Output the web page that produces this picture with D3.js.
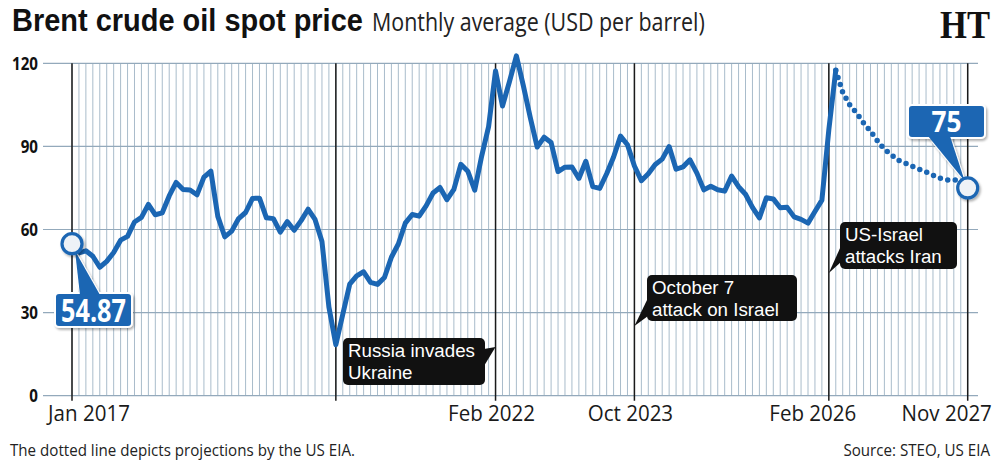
<!DOCTYPE html>
<html><head><meta charset="utf-8">
<script src="https://cdn.jsdelivr.net/npm/d3@7"></script>
<style>
html,body{margin:0;padding:0;background:#fff;}
svg{display:block;font-family:'Open Sans','Noto Sans',sans-serif;}
</style></head>
<body>
<svg id="chart" width="1000" height="475"></svg>
<script>
// ---- data (monthly index 0 = first month shown) ----
const actual = [
  54.87, 51.59, 52.31, 50.33, 46.37, 48.48, 51.70, 56.15, 57.51, 62.71, 64.37,
  69.08, 65.32, 66.02, 72.11, 76.98, 74.41, 74.25, 72.53, 78.89, 81.03, 64.75, 57.36,
  59.41, 63.96, 66.14, 71.23, 71.32, 64.22, 63.92, 59.04, 62.83, 59.71, 63.21, 67.31,
  63.65, 55.66, 32.01, 18.38, 29.38, 40.27, 43.24, 44.74, 40.91, 40.19, 42.69, 49.99,
  54.77, 62.28, 65.41, 64.81, 68.53, 73.16, 75.17, 70.75, 74.49, 83.54, 81.05, 74.17,
  86.51, 97.13, 117.25, 104.58, 113.34, 122.71, 111.93, 100.45, 89.76, 93.33, 91.42, 80.92,
  82.50, 82.59, 78.43, 84.64, 75.47, 74.84, 80.11, 86.15, 93.72, 90.60, 82.94, 77.63,
  80.12, 83.48, 85.41, 89.94, 81.75, 82.61, 85.15, 80.36, 74.29, 75.63, 74.35, 73.86,
  79.27, 75.44, 72.73, 68.01, 64.21, 71.44, 71.04, 67.87, 67.99, 64.56, 63.64, 62.3,
  66.5, 70.6, 96.0, 117.5
];
const projection = [
  117.5, 109.5, 105, 102, 98.5, 95.5, 92, 89, 87, 85, 84, 82.8, 81.8, 80.8, 79.6, 78.5, 77.9, 77.9, 77.8, 75
];
const projStart = actual.length - 1;
const nMonths = projStart + projection.length; // 130
const yTicks = [0, 30, 60, 90, 120];
const xTickIdx = [0, 61, 81, 109, 129];
const xTickLabels = ["Jan 2017", "Feb 2022", "Oct 2023", "Feb 2026", "Nov 2027"];
const eventIdx = [0, 38, 61, 81, 109, 129];
const events = [
  {idx: 61, lines: ["Russia invades", "Ukraine"]},
  {idx: 81, lines: ["October 7", "attack on Israel"]},
  {idx: 109, lines: ["US-Israel", "attacks Iran"]}
];
const firstLabel = "54.87";
const lastLabel = "75";

// ---- helpers: condense text horizontally around its anchor ----
function squeeze(sel, k) {
  sel.each(function () {
    const t = d3.select(this), xx = +t.attr("x"), yy = +t.attr("y");
    t.attr("transform", `translate(${xx},${yy}) scale(${k},1) translate(${-xx},${-yy})`);
  });
}
function fitTo(sel, target) {
  const w = sel.node().getComputedTextLength();
  const k = target / w;
  squeeze(sel, k);
  return k;
}

// ---- scales ----
const x = d3.scaleLinear().domain([0, nMonths - 1]).range([72, 967.7]);
const y = d3.scaleLinear().domain([0, 120]).range([395.7, 63.3]);

const svg = d3.select("#chart");
const defs = svg.append("defs");
const f = defs.append("filter").attr("id","sh").attr("x","-30%").attr("y","-30%").attr("width","170%").attr("height","180%");
f.append("feDropShadow").attr("dx",1.5).attr("dy",2).attr("stdDeviation",1.3).attr("flood-color","#000").attr("flood-opacity",0.3);

const BLUE = "#1b66b3";
const NARROW = "'Liberation Sans','Arimo',sans-serif";

// title
const tt = svg.append("text").attr("x", 12).attr("y", 31.5).attr("font-size", 32).attr("font-weight", 700)
  .attr("font-family", NARROW).attr("fill", "#111").text("Brent crude oil spot price");
fitTo(tt, 351);
const st = svg.append("text").attr("x", 372).attr("y", 31.5).attr("font-size", 25)
  .attr("fill", "#222").text("Monthly average (USD per barrel)");
fitTo(st, 333);
// HT logo
const ht = svg.append("text").attr("x", 940).attr("y", 38)
  .attr("font-family","'Liberation Serif','DejaVu Serif',serif").attr("font-weight",700)
  .attr("font-size", 40).attr("fill","#111").text("HT");
fitTo(ht, 50);

// vertical monthly grid
svg.append("g").selectAll("line").data(d3.range(nMonths)).join("line")
  .attr("x1", d => x(d)).attr("x2", d => x(d))
  .attr("y1", y(120)).attr("y2", y(0))
  .attr("stroke", "#a9bccb").attr("stroke-width", 1);

// horizontal grid
svg.append("g").selectAll("line").data(yTicks).join("line")
  .attr("x1", 43).attr("x2", 978)
  .attr("y1", d => y(d)).attr("y2", d => y(d))
  .attr("stroke", "#93a9bb").attr("stroke-width", 1.2);

// y labels
const yl = svg.append("g").selectAll("text").data(yTicks).join("text")
  .attr("x", 38).attr("y", d => y(d) + 6.5).attr("text-anchor", "end")
  .attr("font-size", 18.5).attr("font-weight", 700).attr("fill", "#111")
  .text(d => d);
squeeze(yl, 26 / yl.filter(d => d === 120).node().getComputedTextLength());

// dark event lines
svg.append("g").selectAll("line").data(eventIdx).join("line")
  .attr("x1", d => x(d)).attr("x2", d => x(d))
  .attr("y1", y(120)).attr("y2", y(0) + 5)
  .attr("stroke", "#1a1a1a").attr("stroke-width", 1.5);

// x labels
const xOff = [17, -4, -4, -16, -21];
const xl = svg.append("g").selectAll("text").data(xTickIdx).join("text")
  .attr("x", (d, i) => x(d) + xOff[i]).attr("y", 421).attr("text-anchor", "middle")
  .attr("font-size", 22).attr("fill", "#1a1a1a")
  .text((d, i) => xTickLabels[i]);
squeeze(xl, 87 / xl.filter((d, i) => i === 1).node().getComputedTextLength());

// line
const line = d3.line().x(d => x(d[0])).y(d => y(d[1]));
svg.append("path").datum(actual.map((v, i) => [i, v]))
  .attr("d", line).attr("fill", "none").attr("stroke", BLUE)
  .attr("stroke-width", 5).attr("stroke-linejoin", "round").attr("stroke-linecap", "round");
svg.append("path").datum(projection.map((v, i) => [projStart + i, v]))
  .attr("d", line).attr("fill", "none").attr("stroke", BLUE)
  .attr("stroke-width", 5.5).attr("stroke-dasharray", "0 7.5").attr("stroke-linecap", "round");

// event annotation boxes
let evK = null;
function eventBox(ev, bx, by, bw, bh, tail) {
  const g = svg.append("g");
  g.append("path").attr("d", d3.line()(tail)).attr("fill", "#111");
  g.append("rect").attr("x", bx).attr("y", by).attr("width", bw).attr("height", bh)
    .attr("rx", 5).attr("fill", "#111");
  const ts = g.selectAll("text").data(ev.lines).join("text")
    .attr("x", bx + 5).attr("y", (t, k) => by + 19 + k * 22)
    .attr("font-family", NARROW).attr("font-size", 19).attr("fill", "#fff").text(t => t);
  if (evK === null) evK = 127 / ts.node().getComputedTextLength();
  squeeze(ts, evK);
}
{
  const e = events[0], lx = x(e.idx);
  eventBox(e, 343, 338, 142, 47, [[484, 349], [484, 366], [lx, 347]]);
}
{
  const e = events[1], lx = x(e.idx);
  eventBox(e, 647, 275, 150, 46, [[648, 298], [648, 316], [lx, 326]]);
}
{
  const e = events[2], lx = x(e.idx);
  eventBox(e, 840, 222, 117, 47, [[841, 246], [841, 262], [lx, 273]]);
}

// callouts
function callout(idx, val, label, bx, by, bw, bh, fs, tw, tail) {
  const cx = x(idx), cy = y(val);
  const g = svg.append("g");
  g.append("path").attr("d", d3.line()(tail) + "Z").attr("fill", BLUE)
    .attr("stroke", "#fff").attr("stroke-width", 2).attr("filter", "url(#sh)");
  g.append("rect").attr("x", bx).attr("y", by).attr("width", bw).attr("height", bh)
    .attr("rx", 4).attr("fill", BLUE).attr("stroke", "#fff").attr("stroke-width", 2)
    .attr("filter", "url(#sh)");
  g.append("path").attr("d", d3.line()(tail)).attr("fill", BLUE);
  const t = g.append("text").attr("x", bx + bw / 2).attr("y", by + bh / 2 + fs * 0.36)
    .attr("text-anchor", "middle").attr("font-size", fs).attr("font-weight", 700)
    .attr("fill", "#fff").text(label);
  fitTo(t, tw);
  g.append("circle").attr("cx", cx).attr("cy", cy).attr("r", 10)
    .attr("fill", "#eef2f7").attr("stroke", BLUE).attr("stroke-width", 3.2)
    .attr("filter", "url(#sh)");
}
{
  const cx = x(0), cy = y(actual[0]);
  callout(0, actual[0], firstLabel, 55, 293, 77, 34, 33, 65,
    [[cx + 3, cy + 7], [80, 295], [100, 295]]);
}
{
  const last = projection[projection.length - 1];
  const cx = x(nMonths - 1), cy = y(last);
  callout(nMonths - 1, last, lastLabel, 908, 105, 77, 33, 29, 30,
    [[928, 136], [950, 136], [cx - 3, cy - 7]]);
}

// footer
const fl = svg.append("text").attr("x", 10).attr("y", 456).attr("font-size", 16.5).attr("fill", "#222")
  .text("The dotted line depicts projections by the US EIA.");
const fk = fitTo(fl, 345);
const fr = svg.append("text").attr("x", 990).attr("y", 456).attr("text-anchor", "end")
  .attr("font-size", 16.5).attr("fill", "#222").text("Source: STEO, US EIA");
squeeze(fr, fk);
</script>
</body></html>
